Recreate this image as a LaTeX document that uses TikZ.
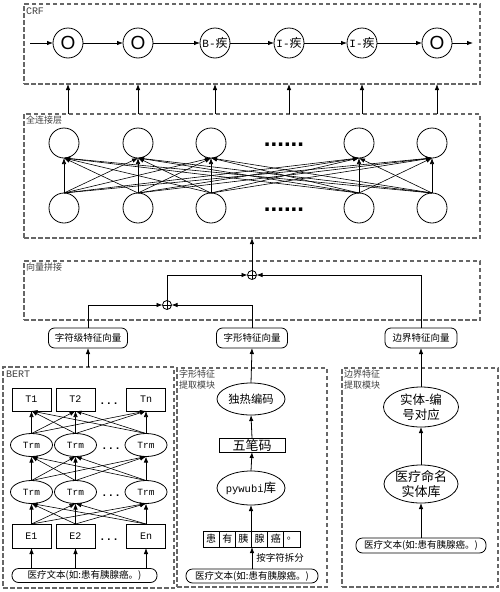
\documentclass[tikz,border=0pt]{standalone}
\usepackage{fontspec}
\setmainfont{Liberation Serif}
\newfontfamily\cjk{Noto Sans CJK SC}
\newfontfamily\mono{Liberation Mono}
\newfontfamily\lsans{Liberation Sans}
\usetikzlibrary{arrows.meta,shapes.geometric}
\newcommand\myfs[1]{\fontsize{#1}{#1}\selectfont}
\begin{document}
\begin{tikzpicture}[x=1pt,y=-1pt,
  every node/.style={inner sep=0pt, outer sep=0pt},
  dbox/.style={draw=black!60, line width=1.1pt, dash pattern=on 4.5pt off 2.5pt},
  lbl/.style={anchor=north west, text=black!75, align=left, font=\cjk\fontsize{9}{10.5}\selectfont},
  arr/.style={-{Latex[length=6pt,width=4.5pt]}, line width=0.8pt},
  thin/.style={-{Latex[length=6pt,width=4.5pt]}, line width=0.6pt},
  crfc/.style={circle, draw, line width=0.8pt, minimum size=30pt},
  fcc/.style={circle, draw, line width=0.8pt, minimum size=30pt},
  rbox/.style={draw, line width=0.8pt, rounded corners=6pt, minimum height=20pt, font=\cjk\myfs{9.5}},
  pill/.style={draw, line width=0.8pt, rounded corners=6.5pt, font=\cjk\myfs{9.5}},
  sq/.style={draw, line width=0.8pt, font=\mono\myfs{10}},
  ell/.style={ellipse, draw, line width=0.8pt},
  dots/.style={font=\mono\bfseries\myfs{11}, anchor=base},
  bigdots/.style={font=\lsans\bfseries\myfs{24}, anchor=base},
  plus/.style={circle, draw, line width=0.8pt, minimum size=9pt,
    path picture={\draw[line width=0.8pt] (path picture bounding box.north) -- (path picture bounding box.south) (path picture bounding box.west) -- (path picture bounding box.east);}},
]
\useasboundingbox (0,0) rectangle (500,592);

% ---------------- CRF ----------------
\node[dbox, minimum width=456pt, minimum height=80pt] (crf) at (252,44) {};
\node[lbl, font=\mono\myfs{10}] (crflbl) at (26,8) {CRF};
\node[crfc] (c1) at (68,43) {\lsans\myfs{19}O};
\node[crfc] (c2) at (138,43) {\lsans\myfs{19}O};
\node[crfc] (c3) at (215,43) {\mono\myfs{11}B-\cjk\myfs{12}疾};
\node[crfc] (c4) at (289,43) {\mono\myfs{11}I-\cjk\myfs{12}疾};
\node[crfc] (c5) at (362,43) {\mono\myfs{11}I-\cjk\myfs{12}疾};
\node[crfc] (c6) at (437,43) {\lsans\myfs{19}O};
\coordinate (cin) at (30,43);
\coordinate (cout) at (473,43);
\draw[arr] (cin) -- (c1);
\draw[arr] (c1) -- (c2);
\draw[arr] (c2) -- (c3);
\draw[arr] (c3) -- (c4);
\draw[arr] (c4) -- (c5);
\draw[arr] (c5) -- (c6);
\draw[arr] (c6) -- (cout);

% ---------------- Fully connected ----------------
\node[dbox, minimum width=456pt, minimum height=124pt] (fc) at (252,176) {};
\node[lbl] (fclbl) at (26,116) {全连接层};
\foreach \i/\x in {1/64,2/138,3/211,4/359,5/432}{
  \node[fcc] (u\i) at (\x,143) {};
  \node[fcc] (l\i) at (\x,208) {};
}
\node[bigdots] (ud) at (284,146) {......};
\node[bigdots] (ld) at (284,211) {......};
\foreach \a in {1,...,5}{
  \foreach \b in {1,...,5}{
    \draw[thin] (l\a.north) -- (u\b.south);
  }
}
\foreach \c in {c1,c2,c3,c4,c5,c6}{
  \draw[arr] (fc.north -| \c) -- (crf.south -| \c);
}

% ---------------- Concatenation ----------------
\node[dbox, minimum width=456pt, minimum height=59pt] (cat) at (252,290.5) {};
\node[lbl] (catlbl) at (26,263) {向量拼接};
\node[plus] (p1) at (252,275) {};
\node[plus] (p2) at (167,305) {};
\node[rbox, minimum width=79pt] (v1) at (88,338) {字符级特征向量};
\node[rbox, minimum width=71pt] (v2) at (252,338) {字形特征向量};
\node[rbox, minimum width=72pt] (v3) at (421,338) {边界特征向量};
\draw[arr] (v1.north) |- (p2.west);
\draw[arr] (v2.north) |- (p2.east);
\draw[arr] (p2.north) |- (p1.west);
\draw[arr] (v3.north) |- (p1.east);
\draw[arr] (p1.north) -- (p1 |- fc.south);

% ---------------- BERT ----------------
\node[dbox, minimum width=171pt, minimum height=221pt] (bert) at (88.5,477.5) {};
\node[lbl, font=\mono\myfs{10}] (bertlbl) at (6,371) {BERT};
\foreach \i/\x/\t in {1/31.5/1,2/75.5/2,3/146/n}{
  \node[sq, minimum width=39pt, minimum height=23pt] (T\i) at (\x,399.5) {T\t};
  \node[ell, minimum width=42pt, minimum height=23pt, font=\mono\myfs{9.5}] (ra\i) at (\x,445) {Trm};
  \node[ell, minimum width=42pt, minimum height=23pt, font=\mono\myfs{9.5}] (rb\i) at (\x,492) {Trm};
  \node[sq, minimum width=39pt, minimum height=24pt] (E\i) at (\x,536) {E\t};
}
\node[dots] (td) at (109,404) {...};
\node[dots] (rad) at (111,449) {...};
\node[dots] (rbd) at (111,496) {...};
\node[dots] (ed) at (109,540) {...};
\foreach \a in {1,2,3}{
  \foreach \b in {1,2,3}{
    \draw[thin] (ra\a.north) -- (T\b.south);
    \draw[thin] (rb\a.north) -- (ra\b.south);
    \draw[thin] (E\a.north) -- (rb\b.south);
  }
}
\node[pill, minimum width=145pt, minimum height=14pt] (txt1) at (84.5,575.5) {医疗文本(如:患有胰腺癌。)};
\foreach \i in {1,2,3}{
  \draw[arr] (txt1.north -| E\i) -- (E\i.south);
}
\draw[arr] (bert.north -| v1) -- (v1.south);

% ---------------- Glyph module ----------------
\node[dbox, minimum width=150pt, minimum height=219pt] (gm) at (252,477.5) {};
\node[lbl] (gmlbl) at (179,370) {字形特征\\提取模块};
\node[ell, minimum width=68pt, minimum height=32pt, font=\cjk\myfs{11.3}] (oh) at (251,399) {独热编码};
\node[sq, minimum width=66pt, minimum height=14pt, font=\cjk\myfs{13}] (wb) at (252,445) {五笔码};
\node[ell, minimum width=68pt, minimum height=34pt, inner xsep=-3pt] (py) at (251,488) {\mono\myfs{10.5}pywubi\cjk\myfs{12.5}库};
\foreach \i/\c in {1/患,2/有,3/胰,4/腺,5/癌,6/。}{
  \node[sq, minimum width=16.17pt, minimum height=16pt, font=\cjk\myfs{10}] (ch\i) at (211.1+16.17*\i-16.17,539) {\c};
}
\node[pill, minimum width=132pt, minimum height=14pt] (txt2) at (252,576) {医疗文本(如:患有胰腺癌。)};
\node[font=\cjk\myfs{9.5}] (split) at (280,558) {按字符拆分};
\draw[arr] (txt2.north) -- (txt2.north |- ch3.south);
\draw[arr] (py.south |- ch3.north) -- (py.south);
\draw[arr] (py.north) -- (wb.south);
\draw[arr] (wb.north) -- (oh.south);
\draw[arr] (oh.north) -- (v2.south);

% ---------------- Boundary module ----------------
\node[dbox, minimum width=156pt, minimum height=219pt] (bm) at (420,477.5) {};
\node[lbl] (bmlbl) at (344,370) {边界特征\\提取模块};
\node[ell, minimum width=75pt, minimum height=40pt, align=center, inner ysep=-2pt, font=\cjk\fontsize{12.5}{15}\selectfont] (en1) at (421,407) {实体-编\\号对应};
\node[ell, minimum width=74pt, minimum height=38pt, align=center, inner ysep=-3pt, font=\cjk\fontsize{13}{15.5}\selectfont] (en2) at (421,484) {医疗命名\\实体库};
\node[pill, minimum width=130pt, minimum height=15pt] (txt3) at (421,545.5) {医疗文本(如:患有胰腺癌。)};
\draw[arr] (txt3.north) -- (en2.south);
\draw[arr] (en2.north) -- (en1.south);
\draw[arr] (en1.north) -- (v3.south);
\end{tikzpicture}
\end{document}
